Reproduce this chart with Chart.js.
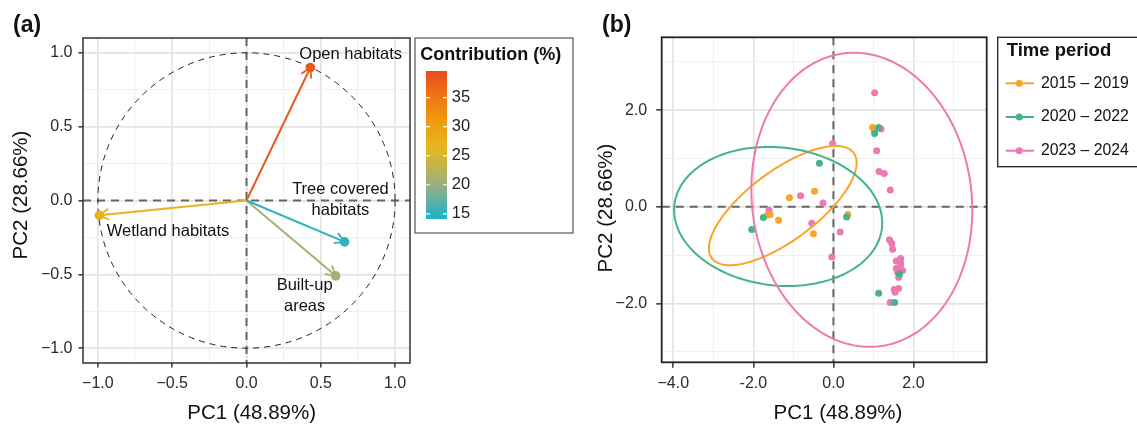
<!DOCTYPE html>
<html>
<head>
<meta charset="utf-8">
<script src="https://cdn.jsdelivr.net/npm/chart.js@4.4.1/dist/chart.umd.min.js"></script>
<style>
  body { margin: 0; background: #fff; }
  #wrap { position: relative; width: 1137px; height: 425px; overflow: hidden; }
  #wrap canvas { position: absolute; left: 0; top: 0; }
</style>
</head>
<body>
<div id="wrap">
  <canvas id="varChart" width="1137" height="425"></canvas>
  <canvas id="indChart" width="1137" height="425"></canvas>
</div>
<script>
// ---------- panel (a): variables ----------
const varLabels = [['Open habitats'], ['Tree covered', 'habitats'], ['Built-up', 'areas'], ['Wetland habitats']];
const varPC1 = [0.43, 0.66, 0.60, -0.99];
const varPC2 = [0.90, -0.28, -0.51, -0.10];
const varContrib = [38, 15, 20.5, 27];
const varTicks = [-1, -0.5, 0, 0.5, 1];
const varTickLabels = ['−1.0', '−0.5', '0.0', '0.5', '1.0'];
const varMinor = [-0.75, -0.25, 0.25, 0.75];
const contribTicks = [15, 20, 25, 30, 35];

// ---------- panel (b): individuals ----------
const periods = ['2015 – 2019', '2020 – 2022', '2023 – 2024'];
const pc1P1 = [-0.47, -1.10, -1.58, -1.65, -1.37, -0.50, 0.36, 0.98];
const pc2P1 = [0.32, 0.19, -0.16, -0.17, -0.28, -0.56, -0.16, 1.64];
const pc1P2 = [-0.35, -1.75, -2.04, 0.33, 1.13, 1.03, 1.65, 1.13, 1.53];
const pc2P2 = [0.90, -0.22, -0.47, -0.21, 1.64, 1.52, -1.39, -1.79, -1.98];
const pc1P3 = [-0.02, -0.82, -0.26, -1.61, -0.54, 0.17, -0.04, 1.03, 1.19, 1.02, 1.08, 1.14, 1.27, 1.42,
  1.40, 1.46, 1.48, 1.57, 1.68, 1.68, 1.57, 1.67, 1.73, 1.60, 1.63, 1.52, 1.63, 1.54, 1.42];
const pc2P3 = [1.31, 0.23, 0.08, -0.07, -0.34, -0.52, -1.04, 2.36, 1.61, 1.60, 1.16, 0.73, 0.69, 0.35,
  -0.68, -0.76, -0.88, -1.12, -1.07, -1.17, -1.28, -1.24, -1.32, -1.35, -1.46, -1.71, -1.69, -1.77, -1.98];
// confidence ellipses: centre, half extents, correlation
const ellCx = [-1.265, -1.38, 0.71];
const ellCy = [0.025, -0.20, 0.145];
const ellSx = [1.845, 2.60, 2.76];
const ellSy = [1.235, 1.44, 3.045];
const ellRho = [0.717, -0.093, -0.071];
const indXTicks = [-4, -2, 0, 2];
const indXTickLabels = ['−4.0', '-2.0', '0.0', '2.0'];
const indXMinor = [-3, -1, 1, 3];
const indYTicks = [-2, 0, 2];
const indYTickLabels = ['−2.0', '0.0', '2.0'];
const indYMinor = [-3, -1, 1, 3];

// ---------- styling ----------
const FONT = '"Liberation Sans", Arial, sans-serif';
const periodColors = ['#F8A52E', '#44B28A', '#EE78B1'];
const cbMin = 14.1, cbMax = 39.6;
const cbStops = [[14.1, '#19B4C9'], [20, '#9EAE80'], [26, '#E2B921'], [31, '#F19A0E'], [35.5, '#EF7415'], [39.6, '#E74B1F']];
// label anchors (data units) for the variable names
const labelAnchor = [[0.701, 0.99], [0.632, 0.003], [0.391, -0.646], [-0.528, -0.212]];

function hexRgb(h) { return [1, 3, 5].map(i => parseInt(h.substr(i, 2), 16)); }
function contribColor(v) {
  for (let i = 1; i < cbStops.length; i++) {
    if (v <= cbStops[i][0]) {
      const [a, ca] = cbStops[i - 1], [b, cb] = cbStops[i];
      const t = (v - a) / (b - a), p = hexRgb(ca), q = hexRgb(cb);
      return 'rgb(' + p.map((c, k) => Math.round(c + (q[k] - c) * t)).join(',') + ')';
    }
  }
  return cbStops[cbStops.length - 1][1];
}

function axisOpts(min, max, major, labels, minor, tickLen, pad) {
  const isMajor = v => major.some(m => Math.abs(m - v) < 1e-9);
  return {
    type: 'linear', min: min, max: max,
    afterBuildTicks: s => { s.ticks = major.concat(minor).sort((a, b) => a - b).map(v => ({ value: v })); },
    ticks: {
      autoSkip: false, maxRotation: 0, padding: pad, color: '#2b2b2b',
      font: { family: FONT, size: 16 },
      callback: v => { const i = major.findIndex(m => Math.abs(m - v) < 1e-9); return i >= 0 ? labels[i] : ''; }
    },
    grid: {
      drawTicks: true, tickLength: tickLen,
      color: c => (c.tick && isMajor(c.tick.value)) ? '#E4E4E4' : '#F0F0F0',
      lineWidth: c => (c.tick && isMajor(c.tick.value)) ? 1.7 : 1.1,
      tickColor: c => (c.tick && isMajor(c.tick.value)) ? '#333' : 'rgba(0,0,0,0)',
      tickWidth: 1.5
    },
    border: { display: false }
  };
}

function text(ctx, s, x, y, size, opts) {
  opts = opts || {};
  ctx.save();
  ctx.font = (opts.bold ? 'bold ' : '') + size + 'px ' + FONT;
  ctx.fillStyle = opts.color || '#111';
  ctx.textAlign = opts.align || 'center';
  ctx.textBaseline = 'middle';
  ctx.translate(x, y);
  if (opts.rotate) ctx.rotate(opts.rotate);
  ctx.fillText(s, 0, 0);
  ctx.restore();
}

function zeroLines(chart) {
  const { ctx, chartArea: a, scales: { x, y } } = chart;
  ctx.save();
  ctx.strokeStyle = '#666'; ctx.lineWidth = 2; ctx.setLineDash([8, 6]);
  ctx.beginPath();
  ctx.moveTo(a.left, y.getPixelForValue(0)); ctx.lineTo(a.right, y.getPixelForValue(0));
  ctx.moveTo(x.getPixelForValue(0), a.top); ctx.lineTo(x.getPixelForValue(0), a.bottom);
  ctx.stroke();
  ctx.restore();
}

// ---------- chart (a) ----------
const varPlugin = {
  id: 'varPlugin',
  beforeDatasetsDraw(chart) {
    const { ctx, scales: { x, y } } = chart;
    zeroLines(chart);
    ctx.save();
    ctx.strokeStyle = '#222'; ctx.lineWidth = 1; ctx.setLineDash([6, 5]);
    ctx.beginPath();
    ctx.ellipse(x.getPixelForValue(0), y.getPixelForValue(0),
      x.getPixelForValue(1) - x.getPixelForValue(0), y.getPixelForValue(0) - y.getPixelForValue(1), 0, 0, 2 * Math.PI);
    ctx.stroke();
    ctx.restore();
  },
  afterDatasetsDraw(chart) {
    const { ctx, chartArea: a, scales: { x, y } } = chart;
    const ox = x.getPixelForValue(0), oy = y.getPixelForValue(0);
    varPC1.forEach((v, i) => {
      const px = x.getPixelForValue(v), py = y.getPixelForValue(varPC2[i]);
      const ang = Math.atan2(py - oy, px - ox), L = 11, th = Math.PI / 6;
      ctx.save();
      ctx.strokeStyle = contribColor(varContrib[i]); ctx.lineWidth = 1.8;
      ctx.beginPath();
      ctx.moveTo(px - L * Math.cos(ang - th), py - L * Math.sin(ang - th));
      ctx.lineTo(px, py);
      ctx.lineTo(px - L * Math.cos(ang + th), py - L * Math.sin(ang + th));
      ctx.stroke();
      ctx.restore();
      const lines = varLabels[i];
      const cx = x.getPixelForValue(labelAnchor[i][0]), cy = y.getPixelForValue(labelAnchor[i][1]);
      lines.forEach((s, k) => text(ctx, s, cx, cy + (k - (lines.length - 1) / 2) * 20.5, 16.5));
    });
    ctx.save();
    ctx.strokeStyle = '#333'; ctx.lineWidth = 1.5;
    ctx.strokeRect(a.left, a.top, a.right - a.left, a.bottom - a.top);
    ctx.restore();
  },
  afterDraw(chart) {
    const ctx = chart.ctx;
    text(ctx, '(a)', 13, 26, 23, { bold: true, align: 'left' });
    text(ctx, 'PC1 (48.89%)', 251.7, 413, 20.5);
    text(ctx, 'PC2 (28.66%)', 21.7, 195, 20.5, { rotate: -Math.PI / 2 });
    // colour bar legend
    ctx.save();
    ctx.strokeStyle = '#555'; ctx.lineWidth = 1.2;
    ctx.strokeRect(415, 38, 158, 195);
    ctx.restore();
    text(ctx, 'Contribution (%)', 420.3, 55, 18, { bold: true, align: 'left' });
    const bx = 426, bw = 21, bTop = 71, bBot = 219;
    const vy = v => bBot - (v - cbMin) / (cbMax - cbMin) * (bBot - bTop);
    const g = ctx.createLinearGradient(0, bBot, 0, bTop);
    cbStops.forEach(([v, c]) => g.addColorStop((v - cbMin) / (cbMax - cbMin), c));
    ctx.fillStyle = g;
    ctx.fillRect(bx, bTop, bw, bBot - bTop);
    ctx.save();
    ctx.strokeStyle = '#fff'; ctx.lineWidth = 1.2;
    contribTicks.forEach(v => {
      const ty = vy(v);
      ctx.beginPath();
      ctx.moveTo(bx, ty); ctx.lineTo(bx + 4, ty);
      ctx.moveTo(bx + bw - 4, ty); ctx.lineTo(bx + bw, ty);
      ctx.stroke();
      text(ctx, String(v), 451.7, ty, 16.5, { align: 'left', color: '#222' });
    });
    ctx.restore();
  }
};

new Chart(document.getElementById('varChart').getContext('2d'), {
  type: 'scatter',
  data: {
    datasets: varPC1.map((v, i) => ({
      data: [{ x: 0, y: 0 }, { x: v, y: varPC2[i] }],
      showLine: true,
      borderColor: contribColor(varContrib[i]),
      borderWidth: 2,
      pointRadius: [0, 4.8],
      pointBackgroundColor: contribColor(varContrib[i]),
      pointBorderWidth: 0
    }))
  },
  options: {
    responsive: false, animation: false, devicePixelRatio: 1,
    layout: { padding: { left: 0, top: 38, right: 727, bottom: 0 } },
    plugins: { legend: { display: false }, tooltip: { enabled: false } },
    scales: {
      x: Object.assign(axisOpts(-1.1, 1.1, varTicks, varTickLabels, varMinor, 4.5, 6), { afterFit: s => { s.height = 62; } }),
      y: Object.assign(axisOpts(-1.1, 1.1, varTicks, varTickLabels, varMinor, 4.5, 6), { afterFit: s => { s.width = 83; } })
    }
  },
  plugins: [varPlugin]
});

// ---------- chart (b) ----------
const indPlugin = {
  id: 'indPlugin',
  beforeDatasetsDraw(chart) { zeroLines(chart); },
  afterDatasetsDraw(chart) {
    const { ctx, chartArea: a, scales: { x, y } } = chart;
    ellCx.forEach((c, i) => {
      const k = Math.sqrt(1 - ellRho[i] * ellRho[i]);
      ctx.save();
      ctx.strokeStyle = periodColors[i]; ctx.lineWidth = 2;
      ctx.beginPath();
      for (let s = 0; s <= 180; s++) {
        const t = s / 180 * 2 * Math.PI;
        const px = x.getPixelForValue(c + ellSx[i] * Math.cos(t));
        const py = y.getPixelForValue(ellCy[i] + ellSy[i] * (ellRho[i] * Math.cos(t) + k * Math.sin(t)));
        if (s === 0) ctx.moveTo(px, py); else ctx.lineTo(px, py);
      }
      ctx.closePath();
      ctx.stroke();
      ctx.restore();
    });
    ctx.save();
    ctx.strokeStyle = '#222'; ctx.lineWidth = 1.8;
    ctx.strokeRect(a.left, a.top, a.right - a.left, a.bottom - a.top);
    ctx.restore();
  },
  afterDraw(chart) {
    const ctx = chart.ctx;
    text(ctx, '(b)', 602, 26, 23, { bold: true, align: 'left' });
    text(ctx, 'PC1 (48.89%)', 838, 413, 20.5);
    text(ctx, 'PC2 (28.66%)', 606.6, 208, 20.5, { rotate: -Math.PI / 2 });
    ctx.save();
    ctx.strokeStyle = '#222'; ctx.lineWidth = 1.3;
    ctx.strokeRect(997.7, 37.3, 160, 129.4);
    ctx.restore();
    text(ctx, 'Time period', 1006.7, 50.7, 18.5, { bold: true, align: 'left' });
    periods.forEach((p, i) => {
      const ly = 83.3 + i * 33.7;
      ctx.save();
      ctx.strokeStyle = periodColors[i]; ctx.lineWidth = 2;
      ctx.beginPath(); ctx.moveTo(1005.7, ly); ctx.lineTo(1034, ly); ctx.stroke();
      ctx.fillStyle = periodColors[i];
      ctx.beginPath(); ctx.arc(1019.3, ly, 3.5, 0, 2 * Math.PI); ctx.fill();
      ctx.restore();
      text(ctx, p, 1041, ly, 15.8, { align: 'left', color: '#111' });
    });
  }
};

const indSeries = [[pc1P1, pc2P1], [pc1P2, pc2P2], [pc1P3, pc2P3]];
const drawOrder = [1, 0, 2];
new Chart(document.getElementById('indChart').getContext('2d'), {
  type: 'scatter',
  data: {
    datasets: indSeries.map(([xs, ys], i) => ({
      label: periods[i],
      data: xs.map((v, k) => ({ x: v, y: ys[k] })),
      order: drawOrder[i],
      pointRadius: 3.5,
      pointBackgroundColor: periodColors[i],
      pointBorderWidth: 0
    }))
  },
  options: {
    responsive: false, animation: false, devicePixelRatio: 1,
    layout: { padding: { left: 581.7, top: 37.3, right: 150.3, bottom: 0 } },
    plugins: { legend: { display: false }, tooltip: { enabled: false } },
    scales: {
      x: Object.assign(axisOpts(-4.29, 3.83, indXTicks, indXTickLabels, indXMinor, 5.5, 6), { afterFit: s => { s.height = 62.7; } }),
      y: Object.assign(axisOpts(-3.22, 3.51, indYTicks, indYTickLabels, indYMinor, 5.5, 9), { afterFit: s => { s.width = 80; } })
    }
  },
  plugins: [indPlugin]
});
</script>
</body>
</html>
